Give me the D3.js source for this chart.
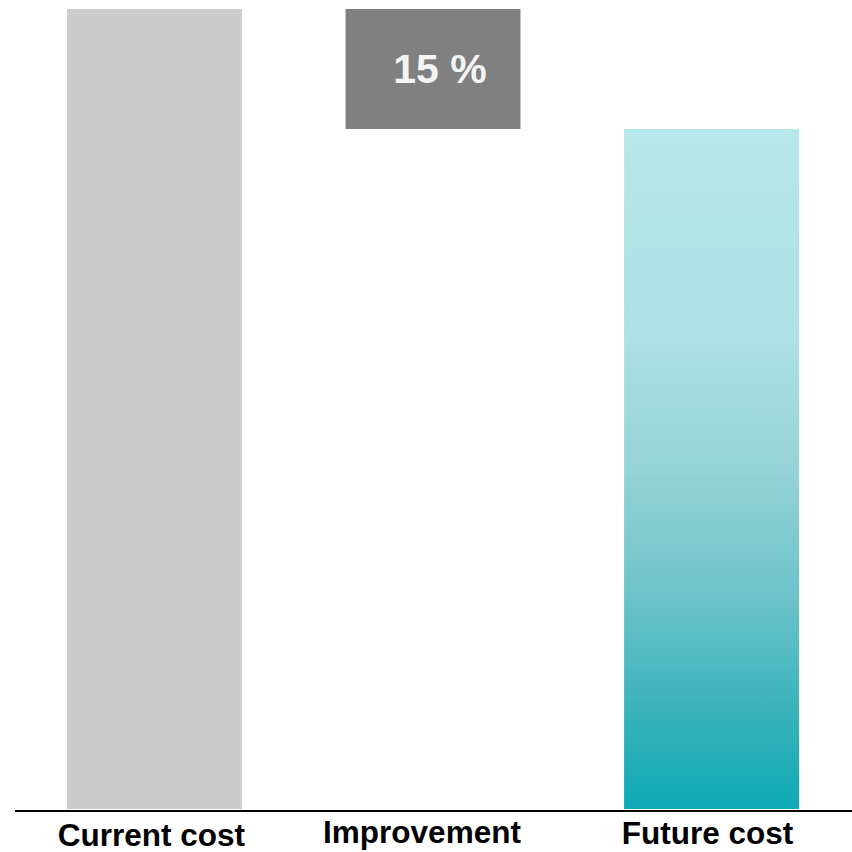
<!DOCTYPE html>
<html>
<head>
<meta charset="utf-8">
<script src="https://cdn.jsdelivr.net/npm/d3@7"></script>
<style>
  html, body { margin: 0; padding: 0; background: #ffffff; }
  svg { display: block; }
  text { font-family: "Liberation Sans", Arial, Helvetica, sans-serif; font-weight: bold; }
</style>
</head>
<body>
<div id="chart"></div>
<script>
// Waterfall: current cost, improvement step, future cost (as % of current)
const categories = ["Current cost", "Improvement", "Future cost"];
const barStart = [0, 85, 0];
const barEnd = [100, 100, 85];
const stepLabels = ["", "15 %", ""];

const W = 852, H = 852;
const svg = d3.select("#chart").append("svg")
  .attr("width", W).attr("height", H);

const x = d3.scaleBand()
  .domain(categories)
  .range([67, 799])
  .paddingInner(0.372)
  .paddingOuter(0);

const y = d3.scaleLinear()
  .domain([0, 100])
  .range([809, 9]);

// Teal gradient for the resulting bar
const defs = svg.append("defs");
const grad = defs.append("linearGradient")
  .attr("id", "futureGrad")
  .attr("x1", 0).attr("y1", 0).attr("x2", 0).attr("y2", 1);
[
  [0, "#b6e7ea"], [0.3, "#ade1e5"], [0.5, "#95d3d8"],
  [0.7, "#69c2c8"], [0.85, "#3bb3bb"], [1, "#0eaab5"]
].forEach(([o, c]) => grad.append("stop").attr("offset", o).attr("stop-color", c));

const fills = ["#cccccc", "#808080", "url(#futureGrad)"];

const data = categories.map((c, i) => ({
  cat: c, start: barStart[i], end: barEnd[i], label: stepLabels[i], fill: fills[i]
}));

svg.append("g").selectAll("rect")
  .data(data)
  .join("rect")
  .attr("x", d => x(d.cat))
  .attr("width", x.bandwidth())
  .attr("y", d => y(d.end))
  .attr("height", d => y(d.start) - y(d.end))
  .attr("fill", d => d.fill);

// Value label inside the floating step
svg.append("g").selectAll("text")
  .data(data.filter(d => d.label))
  .join("text")
  .attr("x", d => x(d.cat) + x.bandwidth() / 2 + 7)
  .attr("y", d => (y(d.end) + y(d.start)) / 2 + 14)
  .attr("text-anchor", "middle")
  .attr("font-size", 41)
  .attr("fill", "#f4f4f4")
  .text(d => d.label);

// Baseline axis with category labels
const axis = d3.axisBottom(x).tickSize(0).tickPadding(0);
const gx = svg.append("g")
  .attr("transform", "translate(0,811)")
  .call(axis);
gx.select(".domain").remove();
gx.append("line")
  .attr("x1", 15).attr("x2", W)
  .attr("y1", 0).attr("y2", 0)
  .attr("stroke", "#000").attr("stroke-width", 2);
const labelShift = { "Current cost": [-3, 35], "Improvement": [-11, 32], "Future cost": [-4, 33] };
gx.selectAll(".tick text")
  .attr("font-size", 31.5)
  .attr("font-family", "'Liberation Sans', Arial, sans-serif")
  .attr("font-weight", "bold")
  .attr("fill", "#000")
  .attr("dy", 0)
  .attr("x", d => labelShift[d][0])
  .attr("y", d => labelShift[d][1]);
</script>
</body>
</html>
